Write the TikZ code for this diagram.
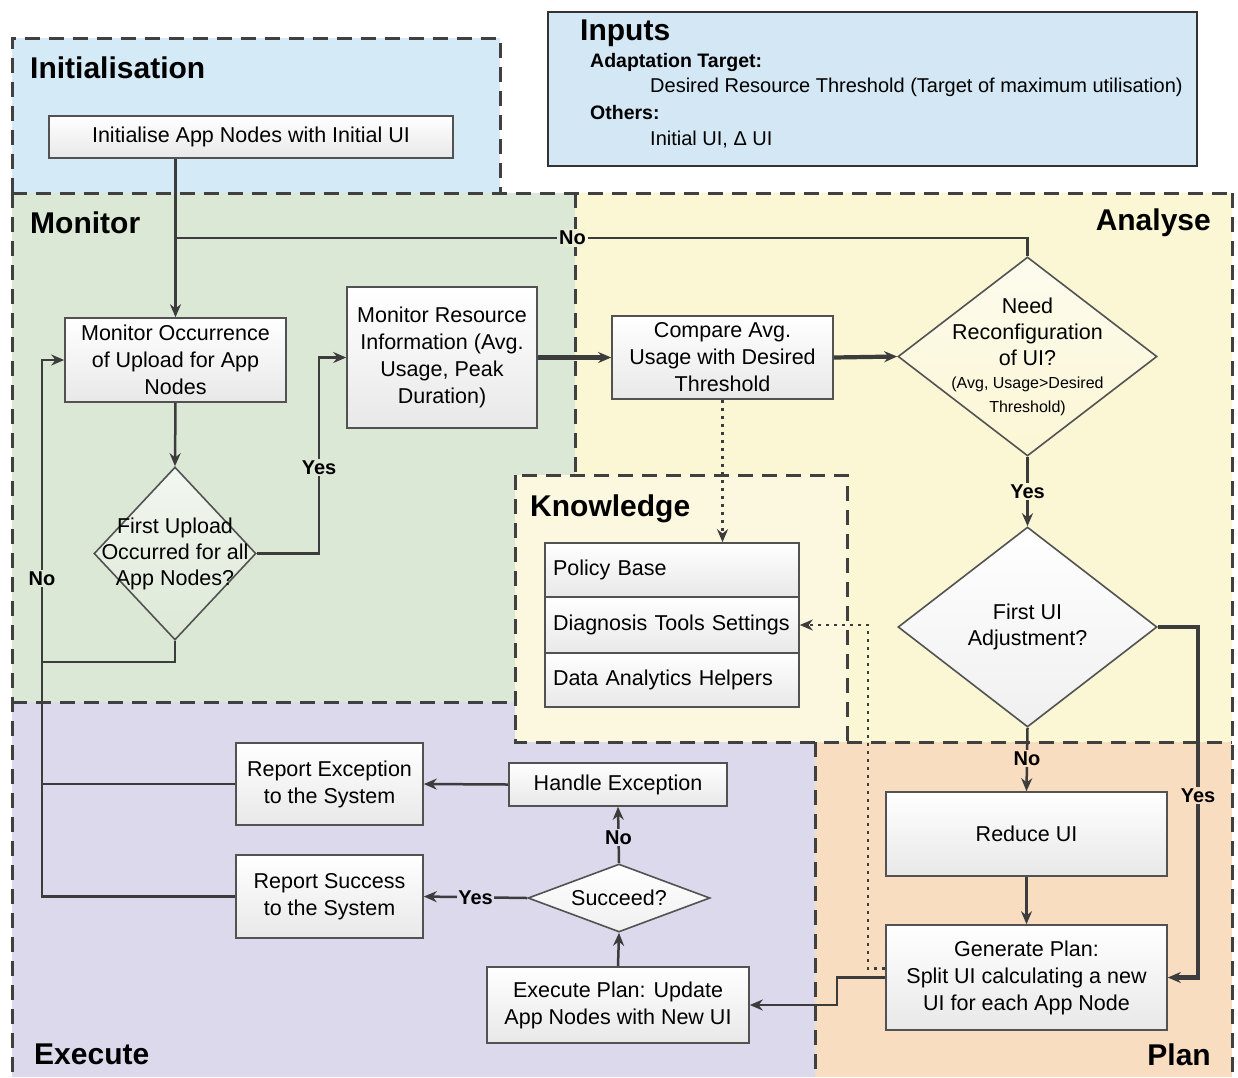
\documentclass[tikz,border=0pt]{standalone}
\usepackage{fontspec}
\setmainfont{Liberation Sans}
\usetikzlibrary{arrows.meta,shapes.geometric,calc}

\definecolor{initBlue}{HTML}{D5EAF7}
\definecolor{inBlue}{HTML}{D3E7F4}
\definecolor{monGreen}{HTML}{DCE8D6}
\definecolor{anaYellow}{HTML}{FBF6D4}
\definecolor{knowYellow}{HTML}{FCF8DF}
\definecolor{exePurple}{HTML}{DDD9ED}
\definecolor{planOrange}{HTML}{F9DDC1}
\definecolor{linegray}{HTML}{3C3C3C}

\begin{document}
\begin{tikzpicture}[x=1pt,y=-1pt,
  region/.style={draw=black!75,line width=3pt,dash pattern=on 15pt off 9pt},
  box/.style={draw=black!68,line width=1.6pt,top color=white,bottom color=black!9,
    align=center,font=\fontsize{21.5}{27}\selectfont,inner sep=2pt},
  kbrow/.style={box,minimum width=254pt,text width=238pt,inner xsep=8pt,align=left},
  decision/.style={diamond,draw=black!68,line width=1.6pt,inner sep=0pt},
  dtext/.style={align=center,font=\fontsize{21.5}{26}\selectfont,inner sep=0pt},
  title/.style={font=\fontsize{30}{34}\selectfont\bfseries,inner sep=0pt},
  line/.style={draw=linegray,line width=2.5pt},
  arr/.style={line,-{Stealth[length=13pt,width=11pt]}},
  heavy/.style={arr,line width=4.2pt},
  dots/.style={draw=linegray,line width=2.8pt,dash pattern=on 2.8pt off 5.2pt,
    -{Stealth[length=13pt,width=11pt]}},
  lab/.style={font=\fontsize{20}{22}\selectfont\bfseries,inner sep=1.5pt}]

\useasboundingbox (0,0) rectangle (1238,1077);
\fill[white] (0,0) rectangle (1238,1077);

% ---- region backgrounds ----
\fill[initBlue] (12,38) rectangle (500,193);
\fill[monGreen] (12,193) -- (575,193) -- (575,475) -- (515,475) -- (515,702) -- (12,702) -- cycle;
\fill[anaYellow] (575,193) -- (1232,193) -- (1232,742) -- (515,742) -- (515,475) -- (575,475) -- cycle;
\fill[knowYellow] (515,475) rectangle (847,742);
\fill[exePurple] (12,702) -- (515,702) -- (515,742) -- (815,742) -- (815,1077) -- (12,1077) -- cycle;
\fill[planOrange] (815,742) rectangle (1232,1077);

% ---- region borders ----
\draw[region] (12,193) -- (12,38) -- (500,38) -- (500,193);
\draw[region] (12,193) -- (1232,193);
\draw[region] (12,193) -- (12,1077);
\draw[region] (1232,193) -- (1232,1077);
\draw[region] (575,193) -- (575,475);
\draw[region] (515,475) rectangle (847,742);
\draw[region] (12,702) -- (515,702);
\draw[region] (847,742) -- (1232,742);
\draw[region] (815,742) -- (815,1077);

% ---- inputs panel ----
\draw[fill=inBlue,draw=black!80,line width=2.6pt] (548,12) rectangle (1197,166);
\node[title,anchor=west] (inTitle) at (580,33) {Inputs};
\node[anchor=west,inner sep=0pt,font=\fontsize{19.5}{22}\selectfont\bfseries] (inAT) at (590,62) {Adaptation Target:};
\node[anchor=west,inner sep=0pt,font=\fontsize{20}{22}\selectfont] (inDRT) at (650,87) {Desired Resource Threshold (Target of maximum utilisation)};
\node[anchor=west,inner sep=0pt,font=\fontsize{19.5}{22}\selectfont\bfseries] (inOth) at (590,113) {Others:};
\node[anchor=west,inner sep=0pt,font=\fontsize{20}{22}\selectfont] (inUI) at (650,140) {Initial UI, Δ UI};

% ---- region titles ----
\node[title,anchor=west] (tInit) at (30,68) {Initialisation};
\node[title,anchor=west] (tMon) at (30,223) {Monitor};
\node[title,anchor=east] (tAna) at (1211,223) {Analyse};
\node[title,anchor=west] (tKnow) at (530,509) {Knowledge};
\node[title,anchor=west] (tExe) at (34,1054) {Execute};
\node[title,anchor=east] (tPlan) at (1211,1055) {Plan};

% ---- process boxes ----
\node[box,minimum width=404pt,minimum height=42pt] (init) at (251,137) {Initialise App Nodes with Initial UI};
\node[box,minimum width=221pt,minimum height=84pt] (monOcc) at (175.5,360) {Monitor Occurrence\\of Upload for App\\Nodes};
\node[box,minimum width=190pt,minimum height=141pt] (monRes) at (442,357.5) {Monitor Resource\\Information (Avg.\\Usage, Peak\\Duration)};
\node[box,minimum width=221pt,minimum height=83pt] (compare) at (722.5,357.5) {Compare Avg.\\Usage with Desired\\Threshold};
\node[box,minimum width=281pt,minimum height=84pt] (reduce) at (1026.5,834) {Reduce UI};
\node[box,minimum width=281pt,minimum height=105pt] (gen) at (1026.5,977.5) {Generate Plan:\\Split UI calculating a new\\UI for each App Node};
\node[box,minimum width=262pt,minimum height=76pt] (exec) at (618,1005) {Execute Plan: Update\\App Nodes with New UI};
\node[box,minimum width=218pt,minimum height=43pt] (handle) at (618,784.5) {Handle Exception};
\node[box,minimum width=187pt,minimum height=82pt] (repExc) at (329.5,784) {Report Exception\\to the System};
\node[box,minimum width=187pt,minimum height=83pt] (repSuc) at (329.5,896.5) {Report Success\\to the System};

% ---- knowledge base ----
\node[kbrow,minimum height=54pt] (kb1) at (672,570) {Policy Base};
\node[kbrow,minimum height=56pt] (kb2) at (672,625) {Diagnosis Tools Settings};
\node[kbrow,minimum height=54pt] (kb3) at (672,680) {Data Analytics Helpers};

% ---- decisions ----
\node[decision,minimum width=162pt,minimum height=173pt,top color=monGreen!35!white,bottom color=monGreen] (firstUp) at (175,553.5) {};
\node[dtext] (firstUpT) at (firstUp.center) {First Upload\\Occurred for all\\App Nodes?};
\node[decision,minimum width=259pt,minimum height=199pt,top color=anaYellow!40!white,bottom color=anaYellow] (needRec) at (1027.5,356.5) {};
\node[dtext] (needRecT) at (1027.5,332) {Need\\Reconfiguration\\of UI?};
\node[dtext,font=\fontsize{16}{24}\selectfont] (needRecS) at (1027.5,396) {(Avg, Usage>Desired\\Threshold)};
\node[decision,minimum width=259pt,minimum height=200pt,top color=white,bottom color=black!6] (firstUI) at (1027.5,627) {};
\node[dtext] (firstUIT) at (firstUI.center) {First UI\\Adjustment?};
\node[decision,minimum width=182pt,minimum height=68pt,top color=white,bottom color=black!6] (succeed) at (619,898) {};
\node[dtext] (succeedT) at (succeed.center) {Succeed?};

% ---- junction points ----
\coordinate (noJoin) at (175.5,238);
\coordinate (yesBend) at (319,357.5);
\coordinate (noTop) at (42,360);
\coordinate (noMid) at (42,662);
\coordinate (yesRight) at (1198,977.5);
\coordinate (dotBend) at (868,625);

% ---- monitor flow ----
\draw[arr] (init.south -| monOcc.north) -- (monOcc.north);
\draw[line] (needRec.north) |- (noJoin)
  node[lab,pos=0.767,left color=monGreen,right color=anaYellow] {No};
\draw[arr] (monOcc.south) -- (firstUp.north);
\draw[arr] (firstUp.east) -| (yesBend) node[lab,pos=0.72,fill=monGreen] {Yes} -- (monRes.west);
\draw[line] (firstUp.south) |- (noMid);
\draw[arr] (repSuc.west) -| (noTop) node[lab,pos=0.796,fill=monGreen] {No} -- (monOcc.west);
\draw[line] (repExc.west) -- (repExc.west -| noTop);

% ---- analyse flow ----
\draw[heavy] (monRes.east) -- (compare.west);
\draw[heavy] (compare.east) -- (needRec.west);
\draw[dots] (compare.south) -- (compare.south |- kb1.north);
\draw[arr] (needRec.south) -- (firstUI.north) node[lab,midway,fill=anaYellow] {Yes};

% ---- plan flow ----
\draw[heavy] (firstUI.east) -| (yesRight) node[lab,pos=0.74,fill=planOrange] {Yes} -- (gen.east);
\draw[arr] (firstUI.south) -- (reduce.north) node[lab,pos=0.48,fill=planOrange] {No};
\draw[arr] (reduce.south) -- (gen.north);
\draw[arr] (gen.west) -- ++(-48,0) |- (exec.east);
\draw[dots] ([yshift=9pt]gen.west) -| (dotBend) -- (kb2.east);

% ---- execute flow ----
\draw[arr] (exec.north) -- (succeed.south);
\draw[arr] (succeed.west) -- (repSuc.east) node[lab,midway,fill=exePurple] {Yes};
\draw[arr] (succeed.north) -- (handle.south) node[lab,pos=0.45,fill=exePurple] {No};
\draw[arr] (handle.west) -- (repExc.east);

\end{tikzpicture}
\end{document}
